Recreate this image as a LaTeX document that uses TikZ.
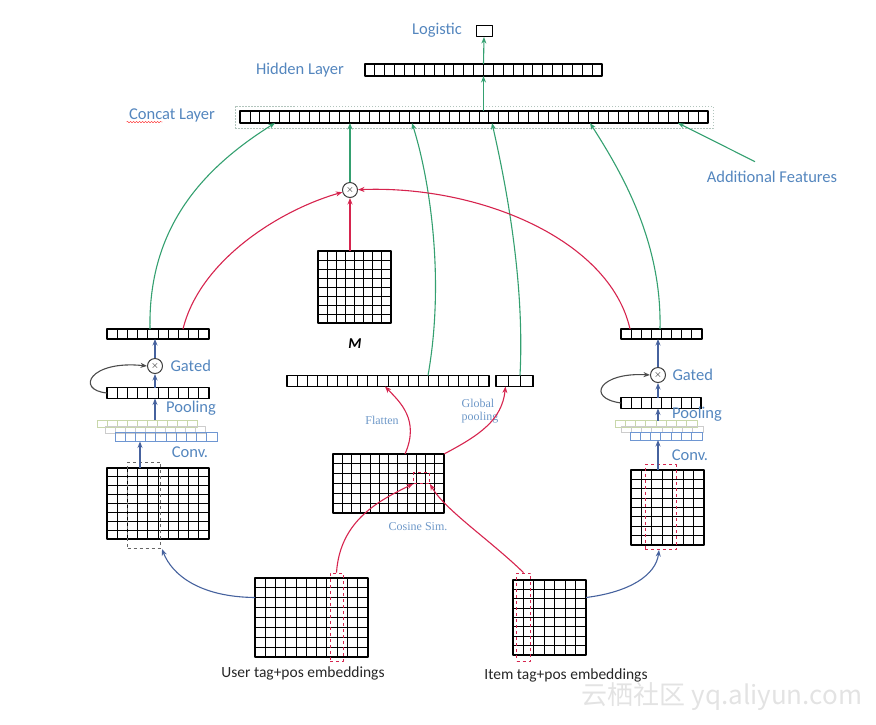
\documentclass[tikz,border=0pt]{standalone}
\usepackage{fontspec}
\setmainfont{Carlito}
\newfontfamily\smallserif{Liberation Serif}
\newfontfamily\cjkfont{Noto Sans CJK SC}
\usetikzlibrary{calc,positioning,arrows.meta,decorations.pathmorphing}
\definecolor{lblblue}{RGB}{84,134,190}
\definecolor{arrgreen}{RGB}{52,160,112}
\definecolor{arrred}{RGB}{214,36,78}
\definecolor{arrblue}{RGB}{70,98,158}
\definecolor{convblue}{RGB}{110,150,210}
\definecolor{convgreen}{RGB}{200,215,170}

% [style] name, cx, cy, width, height, cols, rows
\newcommand\cellgrid[8][]{%
  \node[cellbox,#1,minimum width=#5pt,minimum height=#6pt] (#2) at (#3,#4) {};
  \foreach \k in {1,...,#7}
    \draw[gridline,#1] ($(#2.north west)!\k/#7!(#2.north east)$) -- ($(#2.south west)!\k/#7!(#2.south east)$);
  \foreach \k in {1,...,#8}
    \draw[gridline,#1] ($(#2.north west)!\k/#8!(#2.south west)$) -- ($(#2.north east)!\k/#8!(#2.south east)$);
}

\begin{document}
\begin{tikzpicture}[x=1pt,y=-1pt,>={Stealth[length=6.5pt,width=5pt]},line join=round,
    cellbox/.style={draw,line width=1.5pt,inner sep=0pt,outer sep=0pt},
    gridline/.style={line width=0.9pt},
    lbl/.style={text=lblblue,font=\fontsize{16.5}{18}\selectfont},
    note/.style={text=lblblue!85,font=\smallserif\fontsize{12}{13}\selectfont,align=left},
    grn/.style={->,draw=arrgreen,line width=1.1pt},
    redarr/.style={->,draw=arrred,line width=1.1pt},
    bluarr/.style={->,draw=arrblue,line width=1.1pt},
    loopback/.style={->,draw=black!70,line width=1.1pt},
    mulnode/.style={circle,draw=black!75,line width=1pt,minimum size=15pt,inner sep=0pt},
    dashcol/.style={draw=arrred,dashed,line width=.8pt,inner sep=0pt}]
\useasboundingbox (0,0) rectangle (876,724);

% output side
\node[draw,line width=1pt,minimum width=16pt,minimum height=11pt,inner sep=0pt] (logi) at (484,31) {};
\node[lbl] (logilab) at (437,30) {Logistic};
\cellgrid{hid}{483.5}{70}{237}{12}{24}{1}
\node[lbl] (hidlab) at (300,70) {Hidden Layer};
\cellgrid{concat}{474}{117}{468}{12}{47}{1}
\node[draw=arrgreen!35!gray!50,dash pattern=on 1.5pt off 1.5pt,minimum width=478pt,minimum height=22pt,inner sep=0pt] (cdash) at (474,117) {};
\node[lbl] (clab) at (172,115) {Concat Layer};
\draw[red!80,decorate,decoration={snake,amplitude=.7pt,segment length=3pt}] ([shift={(1pt,-3pt)}]clab.base west) -- ++(36,0);
\draw[grn] (concat.north -| hid) -- (hid.south);
\draw[grn] (hid.north) -- (logi.south);
\node[lbl] (addf) at (772,177) {Additional Features};
\draw[grn] ([shift={(-17pt,6pt)}]addf.north) -- ([xshift=204pt]concat.south);

% middle branch
\node[mulnode] (mul) at (350,190) {$\times$};
\draw[grn] (mul.north) -- (mul.north |- concat.south);
\cellgrid{mmat}{354.5}{287}{73}{72}{8}{8}
\node[font=\bfseries\itshape\fontsize{15}{17}\selectfont] (mlab) at (355,344) {M};
\draw[redarr] (mmat.north -| mul) -- (mul.south);
\cellgrid{flat}{388}{381}{202}{11}{20}{1}
\cellgrid{gpool}{514.5}{381}{37}{11}{3}{1}
\draw[grn] ([xshift=40pt]flat.north) .. controls (445,280) and (430,180) .. ([xshift=-62pt]concat.south);
\draw[grn] ([xshift=5.5pt]gpool.north) .. controls (525,280) and (505,180) .. ([xshift=18pt]concat.south);
\cellgrid{cosm}{388.5}{483.5}{111}{59}{12}{6}
\node[dashcol,minimum width=16pt,minimum height=11pt] (cbox) at (421.5,478) {};
\node[note] (flab) at (382,420) {Flatten};
\node[note] (glab) at (480,411) {Global\\pooling};
\node[note] (cslab) at (418,527) {Cosine Sim.};
\draw[redarr] ([xshift=16.5pt]cosm.north) .. controls (420,420) and (400,402) .. ([xshift=-3pt]flat.south);
\draw[redarr] (cosm.north east) .. controls (480,435) and (502,420) .. ([xshift=-9pt]gpool.south);

% inputs
\cellgrid{uin}{311.5}{617.5}{113}{79}{11}{8}
\node[dashcol,minimum width=13pt,minimum height=88pt] (ucol) at (336.5,617) {};
\cellgrid{iin}{549.5}{617.5}{73}{75}{7}{8}
\node[dashcol,minimum width=14pt,minimum height=88pt] (icol) at (523.5,617) {};
\node[font=\fontsize{15.5}{17}\selectfont,text=black!85] (ulab) at (303,673) {User tag+pos embeddings};
\node[font=\fontsize{15.5}{17}\selectfont,text=black!85] (ilab) at (566,675) {Item tag+pos embeddings};
\draw[redarr] (ucol.north) .. controls (340,520) and (380,500) .. (cbox.south west);
\draw[redarr] (icol.north) .. controls (490,540) and (445,510) .. (cbox.south east);

% user branch
\cellgrid{ltop}{158}{334}{102}{10}{10}{1}
\node[mulnode] (lmul) at (155,366) {$\times$};
\node[lbl,right=4pt of lmul] (lgate) {Gated};
\cellgrid{lpool}{158}{393}{102}{11}{10}{1}
\cellgrid[draw=convgreen,line width=.7pt]{lconvA}{147}{423.5}{100}{7}{10}{1}
\cellgrid[draw=gray!40,line width=.7pt]{lconvB}{155}{430}{100}{7}{10}{1}
\cellgrid[draw=convblue,line width=.8pt]{lconvC}{166}{437}{102}{9}{10}{1}
\node[lbl] (lpoollab) at (191,408) {Pooling};
\node[lbl] (lconvlab) at (190,452) {Conv.};
\cellgrid{lin}{158}{503.5}{102}{71}{10}{8}
\node[draw=black!60,dashed,line width=.8pt,minimum width=33pt,minimum height=86pt,inner sep=0pt] (lcol) at (144,505) {};
\draw[bluarr] (lpool.north -| lmul) -- (lmul.south);
\draw[bluarr] (lmul.north) -- (lmul |- ltop.south);
\draw[loopback] (lpool.west) .. controls (75,390) and (90,360) .. (lmul.west);
\draw[bluarr] (lconvA.north -| lmul) -- (lpool.south -| lmul);
\draw[bluarr] ([xshift=-18pt]lin.north) -- ([xshift=-18pt]lin.north |- lconvC.south);
\draw[grn] ([xshift=-8pt]ltop.north) .. controls (148,230) and (200,170) .. ([xshift=-199pt]concat.south);
\draw[redarr] ([xshift=25pt]ltop.north) .. controls (200,260) and (280,210) .. (mul);
\draw[bluarr] ([yshift=20pt]uin.west) .. controls (200,597) and (172,575) .. ([shift={(4pt,-10pt)}]lin.south);

% item branch
\cellgrid{rtop}{661.5}{334}{81}{10}{8}{1}
\node[mulnode] (rmul) at (658,375) {$\times$};
\node[lbl,right=3pt of rmul] (rgate) {Gated};
\cellgrid{rpool}{661}{403}{80}{11}{8}{1}
\cellgrid[draw=convgreen,line width=.7pt]{rconvA}{656}{424}{82}{7}{8}{1}
\cellgrid[draw=gray!40,line width=.7pt]{rconvB}{662}{429}{82}{6}{8}{1}
\cellgrid[draw=convblue,line width=.8pt]{rconvC}{666}{436}{72}{8}{7}{1}
\node[lbl] (rpoollab) at (697,414) {Pooling};
\node[lbl] (rconvlab) at (690,455) {Conv.};
\cellgrid{rin}{667.5}{507.5}{73}{75}{7}{8}
\node[dashcol,minimum width=31pt,minimum height=85pt] (rcol) at (660.5,507) {};
\draw[bluarr] (rpool.north -| rmul) -- (rmul.south);
\draw[bluarr] (rmul.north) -- (rmul |- rtop.south);
\draw[loopback] (rpool.west) .. controls (585,398) and (600,372) .. (rmul.west);
\draw[bluarr] (rconvA.north -| rmul) -- (rpool.south -| rmul);
\draw[bluarr] (rin.north -| rmul) -- (rmul |- rconvC.south);
\draw[grn] ([xshift=-1.5pt]rtop.north) .. controls (662,240) and (620,170) .. ([xshift=116pt]concat.south);
\draw[redarr] ([xshift=-31.5pt]rtop.north) .. controls (610,240) and (480,185) .. (mul);
\draw[bluarr] ([yshift=20pt]iin.east) .. controls (630,592) and (656,575) .. ([shift={(-8.5pt,-5pt)}]rin.south);

\node[text=gray!22,font=\cjkfont\fontsize{26}{28}\selectfont] (wm) at (722,697) {云栖社区 yq.aliyun.com};
\end{tikzpicture}
\end{document}
